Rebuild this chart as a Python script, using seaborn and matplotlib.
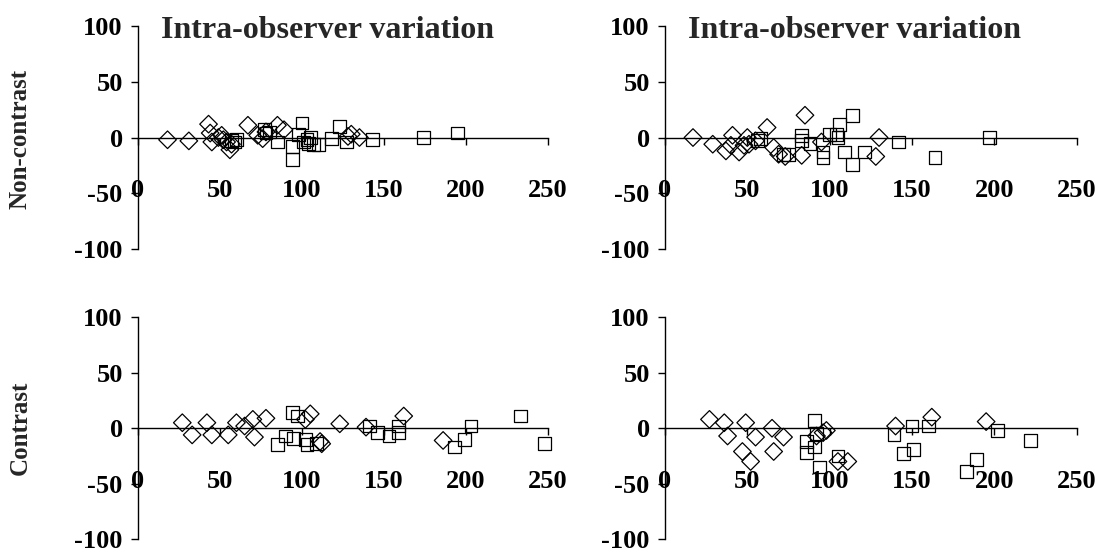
import matplotlib
matplotlib.use('Agg')
import matplotlib.pyplot as plt
import seaborn as sns
import pandas as pd

# Non-contrast, observer A (left) and B (right)
nc_left_dia_x = [18, 31, 43, 44, 45, 49, 51, 52, 54, 56, 57, 67, 73, 76, 78, 85, 89, 128, 130, 135]
nc_left_dia_y = [-2, -3, 12, 4, -4, 0, 2, -2, -4, -11, -6, 11, 2, -1, 5, 11, 7, 1, 3, 0]
nc_left_sq_x = [57, 59, 60, 77, 78, 80, 85, 94, 94, 98, 100, 101, 103, 104, 105, 107, 110, 118, 123, 127, 143, 174, 195]
nc_left_sq_y = [-3, -4, -2, 7, 4, 5, -4, -8, -20, 3, 13, -4, -2, -5, 0, -6, -6, -1, 10, -4, -2, 0, 4]

nc_right_dia_x = [17, 29, 37, 40, 41, 45, 48, 50, 51, 55, 62, 66, 69, 73, 83, 85, 95, 128, 130]
nc_right_dia_y = [0, -6, -12, -7, 2, -13, -7, 0, -6, -3, 9, -9, -15, -17, -16, 20, -4, -17, 0]
nc_right_sq_x = [56, 58, 72, 75, 83, 83, 88, 96, 96, 100, 104, 105, 106, 109, 114, 114, 121, 142, 164, 197]
nc_right_sq_y = [-3, -1, -15, -15, 2, -3, -5, -18, -13, 3, 3, 0, 12, -13, 20, -24, -13, -4, -18, 0]

# Contrast
c_left_dia_x = [27, 33, 42, 45, 55, 60, 65, 70, 71, 78, 102, 105, 111, 112, 123, 139, 162, 186]
c_left_dia_y = [5, -6, 5, -6, -6, 5, 2, 8, -8, 9, 8, 13, -12, -14, 4, 1, 11, -11]
c_left_sq_x = [85, 90, 94, 95, 97, 102, 103, 109, 141, 146, 153, 159, 159, 193, 199, 203, 233, 248]
c_left_sq_y = [-15, -7, 14, -9, 11, -10, -15, -14, 2, -4, -7, 2, -4, -17, -10, 2, 11, -14]

c_right_dia_x = [27, 36, 38, 47, 49, 52, 55, 65, 66, 72, 92, 96, 98, 105, 111, 140, 162, 195]
c_right_dia_y = [8, 5, -7, -21, 5, -30, -8, 0, -21, -8, -7, -4, -2, -30, -30, 2, 10, 6]
c_right_sq_x = [86, 86, 91, 91, 92, 94, 105, 139, 145, 150, 151, 160, 183, 189, 202, 222]
c_right_sq_y = [-12, -22, -17, 7, -5, -35, -25, -6, -23, 2, -19, 2, -39, -28, -2, -11]

x_ticks = [0, 50, 100, 150, 200, 250]
y_ticks = [-100, -50, 0, 50, 100]
y_tick_labels = ['-100', '-50', '0', '50', '100']
title_text = 'Intra-observer variation'
row_labels = ['Non-contrast', 'Contrast']

sns.set_style('white')
plt.rcParams['font.family'] = ['Liberation Serif', 'DejaVu Serif']
plt.rcParams['font.weight'] = 'bold'
plt.rcParams['axes.unicode_minus'] = False

fig, axes = plt.subplots(2, 2, figsize=(11.05, 5.54), dpi=100)

panels = [
    (axes[0, 0], nc_left_dia_x, nc_left_dia_y, nc_left_sq_x, nc_left_sq_y),
    (axes[0, 1], nc_right_dia_x, nc_right_dia_y, nc_right_sq_x, nc_right_sq_y),
    (axes[1, 0], c_left_dia_x, c_left_dia_y, c_left_sq_x, c_left_sq_y),
    (axes[1, 1], c_right_dia_x, c_right_dia_y, c_right_sq_x, c_right_sq_y),
]

# axes boxes in figure fraction
boxes = [
    [0.1249, 0.5505, 0.3711, 0.4025],
    [0.6018, 0.5505, 0.3726, 0.4025],
    [0.1249, 0.0270, 0.3711, 0.4000],
    [0.6018, 0.0270, 0.3726, 0.4000],
]

for (ax, dx, dy, sx, sy), box in zip(panels, boxes):
    ax.set_position(box)
    dia = pd.DataFrame({'x': dx, 'y': dy})
    sq = pd.DataFrame({'x': sx, 'y': sy})
    sns.scatterplot(data=dia, x='x', y='y', marker='D', s=80, facecolors='none',
                    edgecolor='black', linewidth=0.9, ax=ax, clip_on=False, zorder=3)
    sns.scatterplot(data=sq, x='x', y='y', marker='s', s=85, facecolors='none',
                    edgecolor='black', linewidth=0.9, ax=ax, clip_on=False, zorder=3)
    ax.set_xlim(0, 250)
    ax.set_ylim(-100, 100)
    ax.set_xlabel('')
    ax.set_ylabel('')
    ax.spines['right'].set_visible(False)
    ax.spines['top'].set_visible(False)
    ax.spines['bottom'].set_position(('data', 0))
    ax.spines['bottom'].set_bounds(0, 250)
    for sp in ['left', 'bottom']:
        ax.spines[sp].set_color('black')
        ax.spines[sp].set_linewidth(1.0)
    ax.set_xticks(x_ticks)
    ax.set_xticklabels([str(t) for t in x_ticks])
    ax.set_yticks(y_ticks)
    ax.set_yticklabels(y_tick_labels)
    ax.tick_params(axis='y', direction='out', length=5, width=1.0, pad=6,
                   labelsize=19, left=True, colors='black')
    ax.tick_params(axis='x', direction='out', length=5, width=1.0, pad=25,
                   labelsize=19, bottom=True, colors='black')
    ax.patch.set_alpha(0)

for ax in axes[0]:
    ax.text(14, 96, title_text, ha='left', va='center', fontsize=23,
            fontweight='bold')

fig.text(0.018, 0.75, row_labels[0], rotation=90, ha='center', va='center',
         fontsize=18, fontweight='bold')
fig.text(0.018, 0.227, row_labels[1], rotation=90, ha='center', va='center',
         fontsize=18, fontweight='bold')

fig.savefig('out.png', dpi=100)
